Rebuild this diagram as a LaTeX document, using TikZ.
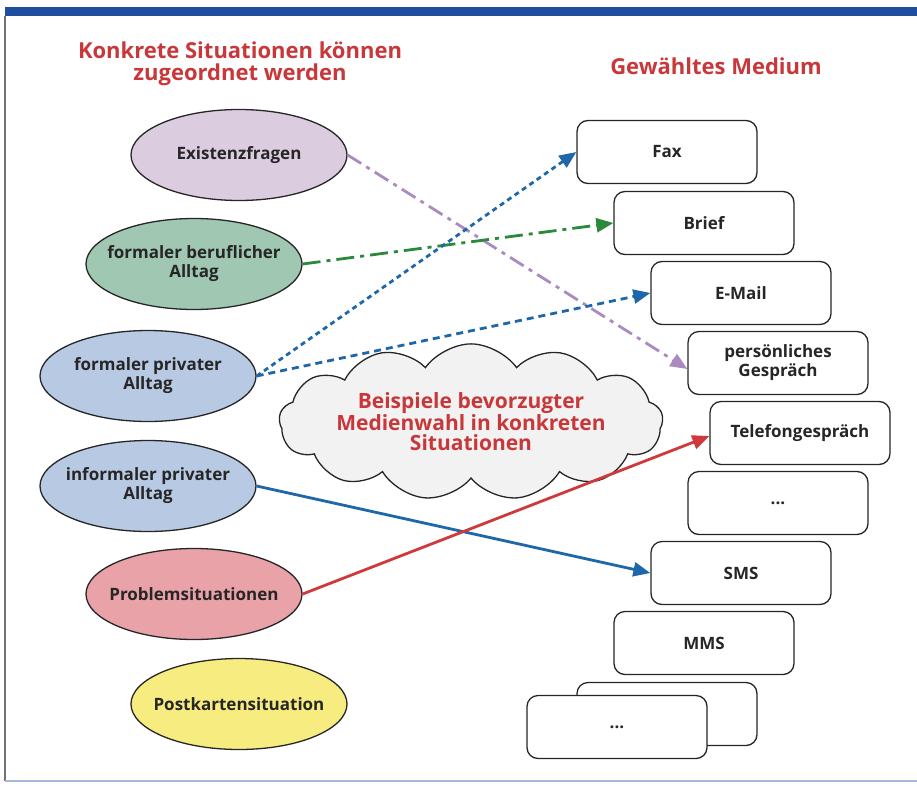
\documentclass[tikz,border=0pt]{standalone}
\usepackage{fontspec}
\setmainfont{Open Sans}
\usetikzlibrary{shapes.geometric,shapes.symbols,arrows.meta}
\definecolor{titlered}{HTML}{C8383A}
\definecolor{framblue}{HTML}{1F4E9E}
\definecolor{lilac}{HTML}{DCCCE0}
\definecolor{sage}{HTML}{9FC7B2}
\definecolor{paleblue}{HTML}{B8CAE3}
\definecolor{rose}{HTML}{E9A2A8}
\definecolor{lemon}{HTML}{F6EC80}
\definecolor{linklilac}{HTML}{A98BC0}
\definecolor{linkgreen}{HTML}{2A8A3A}
\definecolor{linkblue}{HTML}{1E67A8}
\definecolor{linkred}{HTML}{D0393B}

\begin{document}
\begin{tikzpicture}[x=1pt,y=-1pt,
    situation/.style={ellipse,draw=black!85,line width=1.3pt,minimum width=216pt,minimum height=91pt,inner sep=0pt},
    situation text/.style={align=center,font=\fontsize{17}{19}\selectfont\bfseries,text=black!85,inner sep=0pt},
    medium/.style={rectangle,rounded corners=11pt,draw=black!85,line width=1.3pt,fill=white,minimum width=180pt,minimum height=63pt,inner sep=0pt,align=center,font=\fontsize{17}{19}\selectfont\bfseries,text=black!85},
    heading/.style={align=center,text=titlered,font=\fontsize{22}{22.5}\selectfont\bfseries},
    link/.style={line width=2.8pt,-{Triangle[length=17pt,width=14pt]}}]
      \useasboundingbox (0,0) rectangle (917,787);
      \fill[framblue] (5,7) rectangle (917,16);
      \draw[black!55,line width=1.5pt] (5,16) -- (5,781);
      \draw[framblue!40,line width=2pt] (5,781) -- (917,781);

      \node[heading] (left title) at (240,64) {Konkrete Situationen können\\zugeordnet werden};
      \node[heading] (right title) at (716,66) {Gewähltes Medium};

      \node[situation,fill=lilac,label={[situation text]center:Existenzfragen}] (existenz) at (239,155) {};
      \node[situation,fill=sage,label={[situation text]center:{formaler beruflicher\\Alltag}}] (formal job) at (194,264) {};
      \node[situation,fill=paleblue,label={[situation text]center:{formaler privater\\Alltag}}] (formal private) at (148,376) {};
      \node[situation,fill=paleblue,label={[situation text]center:{informaler privater\\Alltag}}] (informal private) at (148,486) {};
      \node[situation,fill=rose,label={[situation text]center:Problemsituationen}] (problem) at (194,594) {};
      \node[situation,fill=lemon,label={[situation text]center:Postkartensituation}] (postcard) at (239,704) {};

      \node[cloud,cloud puffs=13,cloud puff arc=110,aspect=3.4,draw=black!85,line width=1.3pt,fill=black!5,minimum width=370pt,minimum height=116pt,inner sep=0pt,align=center,text=titlered,font=\fontsize{21}{20}\selectfont\bfseries] (cloud) at (471,422) {Beispiele bevorzugter\\Medienwahl in konkreten\\Situationen};

      \node[medium] (fax) at (667,152) {Fax};
      \node[medium] (brief) at (704,223) {Brief};
      \node[medium] (email) at (741,293) {E-Mail};
      \node[medium] (talk) at (778,363) {persönliches\\Gespräch};
      \node[medium] (phone) at (800,433) {Telefongespräch};
      \node[medium] (more top) at (778,503) {...};
      \node[medium] (sms) at (741,573) {SMS};
      \node[medium] (mms) at (704,643) {MMS};
      \node[medium] (stack back) at (667,714) {};
      \node[medium] (more bottom) at (617,727) {...};

      \draw[link,linklilac,dash pattern=on 16pt off 6pt on 4pt off 6pt] (existenz.east) -- ([yshift=-6pt]talk.west);
      \draw[link,linkgreen,dash pattern=on 18pt off 6pt on 4pt off 6pt] (formal job.east) -- (brief.west);
      \draw[link,linkblue,dash pattern=on 5pt off 4pt] (formal private.east) -- (fax.west);
      \draw[link,linkblue,dash pattern=on 7pt off 5pt] (formal private.east) -- (email.west);
      \draw[link,linkblue] (informal private.east) -- (sms.west);
      \draw[link,linkred] (problem.east) -- ([yshift=-3pt]phone.west);
    \end{tikzpicture}
\end{document}
